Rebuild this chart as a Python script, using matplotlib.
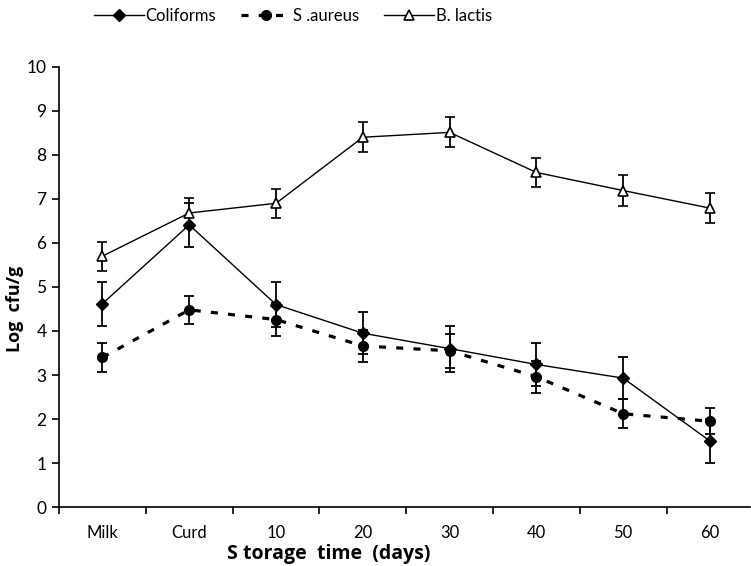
import numpy as np
import matplotlib.pyplot as plt
from matplotlib.lines import Line2D

plt.rcParams['font.family'] = ['Lato', 'DejaVu Sans']

stages = ['Milk', 'Curd', '10', '20', '30', '40', '50', '60']
coliforms = [4.62, 6.41, 4.60, 3.95, 3.60, 3.24, 2.93, 1.50]
coliforms_err = [0.5, 0.5, 0.52, 0.48, 0.52, 0.48, 0.48, 0.5]
saureus = [3.40, 4.48, 4.26, 3.66, 3.55, 2.96, 2.12, 1.95]
saureus_err = [0.33, 0.32, 0.37, 0.36, 0.38, 0.36, 0.33, 0.30]
blactis = [5.70, 6.68, 6.90, 8.40, 8.51, 7.60, 7.19, 6.79]
blactis_err = [0.33, 0.33, 0.33, 0.34, 0.34, 0.32, 0.35, 0.34]

x = np.arange(len(stages))

fig = plt.figure(figsize=(7.51, 5.66), dpi=100)
ax = fig.add_axes([0.0786, 0.104, 0.92, 0.778])

eb = dict(ecolor='black', elinewidth=1.3, capsize=3.5, capthick=1.3)
st_c = dict(color='black', lw=1.0, marker='D', ms=6, mfc='black', mec='black')
st_s = dict(color='black', lw=2.3, linestyle=(0, (2.2, 3.2)), marker='o', ms=7,
            mfc='black', mec='black')
st_b = dict(color='black', lw=1.0, marker='^', ms=7.5, mfc='white', mec='black', mew=1.2)

ax.errorbar(x, coliforms, yerr=coliforms_err, **st_c, **eb)
ax.errorbar(x, saureus, yerr=saureus_err, **st_s, **eb)
ax.errorbar(x, blactis, yerr=blactis_err, **st_b, **eb)

ax.set_xlim(-0.5, 7.46)
ax.set_ylim(0, 10)
ax.set_yticks(range(0, 11))
ax.set_xticks(x)
ax.set_xticklabels(stages)
ax.set_xticks(np.arange(-0.5, 7, 1), minor=True)
ax.tick_params(axis='x', which='major', length=0, pad=13, labelsize=12)
ax.tick_params(axis='x', which='minor', length=5, width=1.2, direction='out')
ax.tick_params(axis='y', length=5, width=1.2, labelsize=12.5, pad=4)
for s in ['top', 'right']:
    ax.spines[s].set_visible(False)
for s in ['left', 'bottom']:
    ax.spines[s].set_linewidth(1.2)

ax.set_xlabel('S torage  time  (days)', fontsize=14, fontweight='bold',
              family=['Open Sans', 'DejaVu Sans'])
ax.xaxis.set_label_coords(0.39, -0.084)
ax.set_ylabel('Log  cfu/g', fontsize=13, fontweight='bold',
              family=['Open Sans', 'DejaVu Sans'])
ax.yaxis.set_label_coords(-0.05, 0.45)

handles = [Line2D([], [], **st_c), Line2D([], [], **st_s), Line2D([], [], **st_b)]
labels = ['Coliforms', 'S .aureus', 'B. lactis']
fig.legend(handles, labels, loc='upper center', bbox_to_anchor=(0.39, 1.012), ncol=3,
           frameon=False, fontsize=12, handlelength=3.0, columnspacing=1.5,
           handletextpad=0.1)

plt.savefig('out.png', dpi=100)
